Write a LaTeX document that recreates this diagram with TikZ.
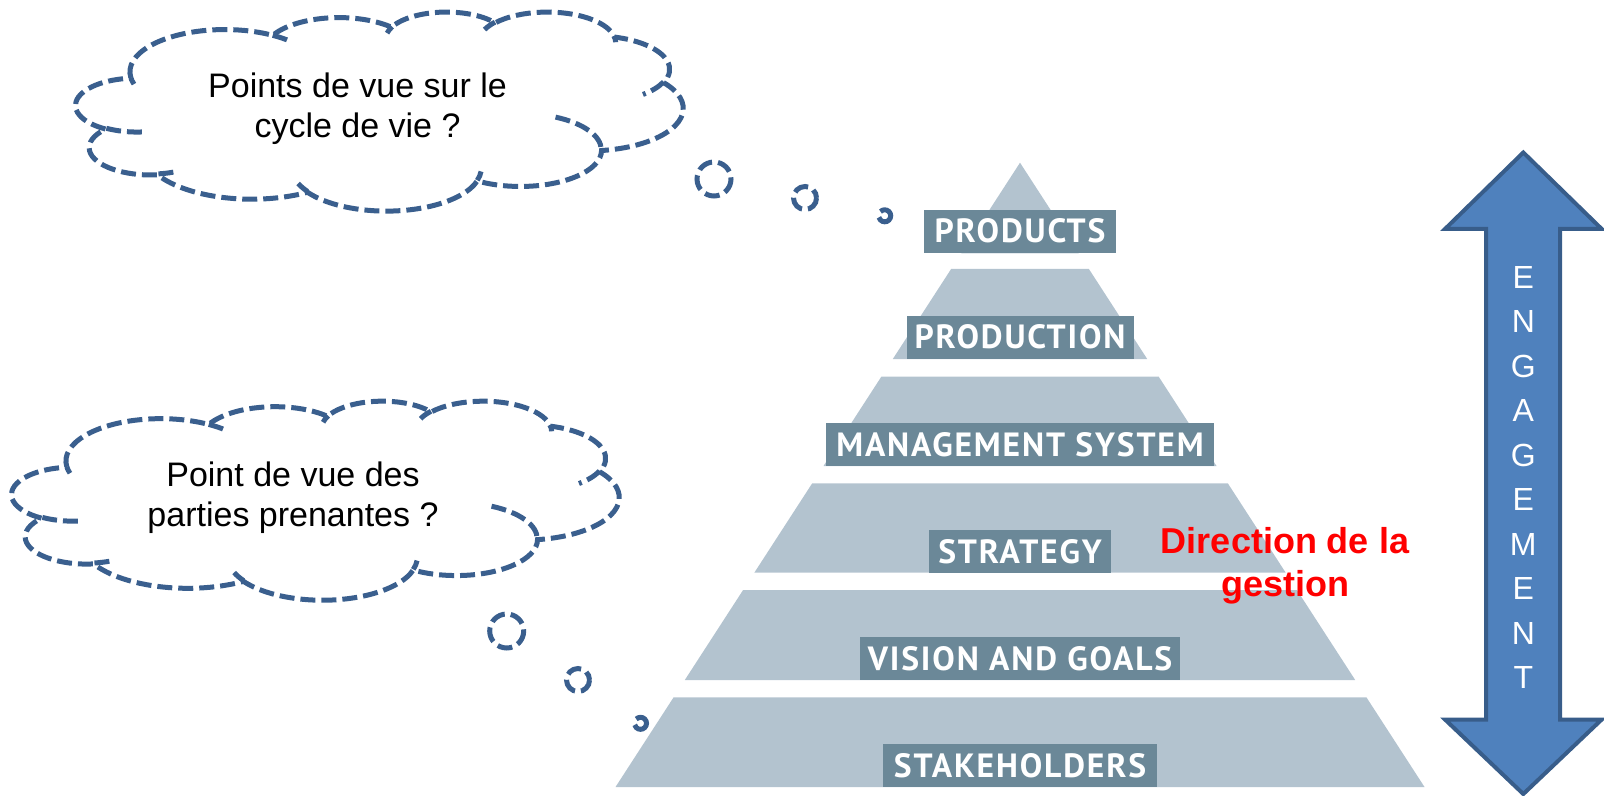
\documentclass[tikz,border=0pt]{standalone}
\usepackage{fontspec}
\setmainfont{Liberation Sans}
\newfontfamily\labelfont{PT Sans}[LetterSpace=5.5]
\definecolor{cloudblue}{HTML}{3A5F8E}
\definecolor{layerfill}{HTML}{B3C3CF}
\definecolor{boxfill}{HTML}{6B8898}
\definecolor{arrowfill}{HTML}{4F81BD}
\definecolor{arrowline}{HTML}{385D8A}

\makeatletter
\gdef\cloudouter{}
\gdef\cloudinner{}
\newcommand\ooarcdata[4]{%
  \pgfmathsetmacro\oo@s{atan2((#1)*sin(#3),(#2)*cos(#3))}%
  \pgfmathsetmacro\oo@e{atan2((#1)*sin((#3)+(#4)),(#2)*cos((#3)+(#4)))}%
  \pgfmathsetmacro\oo@d{\oo@e-\oo@s}%
  \pgfmathsetmacro\oo@d{\oo@d+360*((#4)>0)*(\oo@d<0)-360*((#4)<0)*(\oo@d>0)}%
}
\newcommand\addouter[4]{\ooarcdata{#1}{#2}{#3}{#4}%
  \xdef\cloudouter{\cloudouter arc[start angle=\oo@s,delta angle=\oo@d,x radius=#1,y radius=#2]}}
\newcommand\addinner[6]{\ooarcdata{#3}{#4}{#5}{#6}%
  \xdef\cloudinner{\cloudinner (#1,#2) arc[start angle=\oo@s,delta angle=\oo@d,x radius=#3,y radius=#4]}}
\makeatother

\addouter{67.53}{91.90}{-190.48748}{123.78053}
\addouter{53.33}{72.67}{-144.10238}{89.94523}
\addouter{43.65}{59.45}{-145.80792}{99.72302}
\addouter{48.57}{65.95}{-130.98607}{117.24173}
\addouter{53.33}{72.73}{-78.70888}{109.02692}
\addouter{67.75}{92.20}{-46.26725}{130.269}
\addouter{57.85}{78.67}{0.62502}{114.03333}
\addouter{67.52}{92.15}{22.4516}{115.17255}
\addouter{77.20}{105.43}{66.24263}{75.71102}
\addouter{43.60}{59.18}{-274.94208}{146.73557}
\addouter{43.45}{59.45}{-246.8285}{152.51885}

\addinner{46.93}{261.77}{43.45}{59.45}{86.742}{26.4295}
\addinner{69.28}{348.99}{43.60}{59.18}{73.61047}{11.44747}
\addinner{164.78}{390.90}{67.52}{92.15}{137.62415}{14.0811}
\addinner{288.27}{347.51}{67.52}{92.15}{6.45327}{15.99835}
\addinner{341.29}{229.54}{57.85}{78.67}{-70.29235}{70.91737}
\addinner{417.98}{153.54}{53.33}{72.73}{30.31803}{27.7515}
\addinner{383.24}{54.26}{48.57}{65.95}{-13.74433}{14.8589}
\addinner{290.78}{39.52}{48.57}{65.95}{-149.18145}{18.19537}
\addinner{221.41}{47.20}{43.65}{59.45}{-163.49427}{17.68635}
\addinner{140.00}{51.92}{67.53}{91.90}{-66.70695}{12.31935}
\addinner{41.27}{157.89}{67.53}{91.90}{157.65435}{11.85817}

\tikzset{
  cloudline/.style={draw=cloudblue, line width=2.5pt, dash pattern=on 7.5pt off 3pt},
  bubblec/.style={draw=cloudblue, line width=2.5pt},
  lbl/.style={fill=boxfill, text=white, inner sep=0pt, minimum height=21.75pt,
    text height=11.65pt, text depth=0pt,
    font=\labelfont\bfseries\fontsize{16.8}{20}\selectfont},
  cloudtext/.style={align=center, text=black, inner sep=0pt,
    font=\fontsize{17}{19.75}\selectfont},
}

\begin{document}
\begin{tikzpicture}[x=0.5pt, y=-0.5pt]
\path[use as bounding box] (0,0) rectangle (1604,796);

% ---------- clouds ----------
\begin{scope}[shift={(76,11.4)}, x=0.70255pt, y=-0.23032pt]
  \draw[cloudline, fill=white] (39,143.7) \cloudouter -- cycle;
  \draw[cloudline] \cloudinner;
\end{scope}
\begin{scope}[shift={(12,400.5)}, x=0.70255pt, y=-0.23032pt]
  \draw[cloudline, fill=white] (39,143.7) \cloudouter -- cycle;
  \draw[cloudline] \cloudinner;
\end{scope}

\node[cloudtext] (q1) at (357.5,108.6) {Points de vue sur le\\cycle de vie ?};
\node[cloudtext] (q2) at (293,497.8) {Point de vue des\\parties prenantes ?};

% thought bubbles
\draw[cloudline] (714,179) circle[radius=17];
\draw[cloudline] (805,198) circle[radius=11.5];
\draw[bubblec] (880.46,211.56) arc[start angle=225, end angle=525, radius=6];
\draw[cloudline] (506.7,631) circle[radius=17];
\draw[cloudline] (578,680) circle[radius=11.5];
\draw[bubblec] (636.26,719.06) arc[start angle=225, end angle=525, radius=6];

% ---------- pyramid ----------
\fill[layerfill] (1020,162.7) -- (1078.7,253.3) -- (961.3,253.3) -- cycle;
\fill[layerfill] (951.1,269) -- (1088.9,269) -- (1147.2,359) -- (892.8,359) -- cycle;
\fill[layerfill] (881.3,376.7) -- (1158.7,376.7) -- (1216.5,466) -- (823.5,466) -- cycle;
\fill[layerfill] (812.2,483.3) -- (1227.8,483.3) -- (1285.7,572.7) -- (754.3,572.7) -- cycle;
\fill[layerfill] (743.1,590) -- (1296.9,590) -- (1355.2,680) -- (684.8,680) -- cycle;
\fill[layerfill] (673.6,697.3) -- (1366.4,697.3) -- (1424.5,787) -- (615.5,787) -- cycle;

\node[lbl, minimum width=96pt] (products) at (1020,231.3) {PRODUCTS};
\node[lbl, minimum width=113.5pt] (production) at (1020,337.35) {PRODUCTION};
\node[lbl, minimum width=193.65pt] (mgmt) at (1020,444.65) {MANAGEMENT SYSTEM};
\node[lbl, minimum width=91.35pt] (strategy) at (1020,551.35) {STRATEGY};
\node[lbl, minimum width=160pt] (vision) at (1020,658.35) {VISION AND GOALS};
\node[lbl, minimum width=137pt] (stake) at (1020,765.5) {STAKEHOLDERS};

\node[align=center, text={rgb,255:red,255;green,0;blue,0}, inner sep=0pt,
  font=\bfseries\fontsize{18}{21.7}\selectfont] (dir) at (1285,565.9)
  {Direction de la\\gestion};

% ---------- engagement arrow ----------
\draw[fill=arrowfill, draw=arrowline, line width=2pt, line join=miter]
  (1523.3,152.5) -- (1601.7,229) -- (1560,229) -- (1560,719.5) -- (1601.7,719.5)
  -- (1523.3,794) -- (1445,719.5) -- (1486,719.5) -- (1486,229) -- (1445,229) -- cycle;
\node[align=center, text=white, inner sep=0pt, font=\fontsize{16}{22.25}\selectfont]
  (eng) at (1523.3,477.7) {E\\N\\G\\A\\G\\E\\M\\E\\N\\T};
\end{tikzpicture}
\end{document}
